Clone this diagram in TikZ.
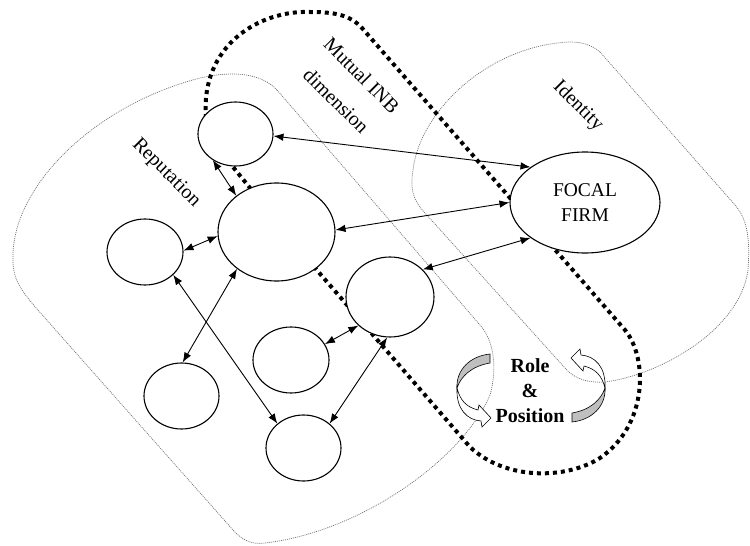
\documentclass[tikz,border=0pt]{standalone}
\usepackage{fontspec}
\setmainfont{Liberation Serif}
\usetikzlibrary{arrows.meta,shapes.geometric}
\begin{document}
\begin{tikzpicture}[x=1pt,y=-1pt,
  bubble/.style={ellipse,draw,fill=white,line width=1.1pt,inner sep=0pt},
  link/.style={{Latex[length=10pt,width=7.5pt]}-{Latex[length=10pt,width=7.5pt]},line width=0.9pt},
  region/.style={draw=black!55,line width=0.7pt,dash pattern=on 1pt off 1pt},
  mutual/.style={line width=4pt,dash pattern=on 4pt off 4pt},
  lab/.style={font=\fontsize{20}{28}\selectfont,align=center,rotate=-45,inner sep=0pt},
  ribbon/.style={draw,line width=0.6pt}]
\useasboundingbox (0,0) rectangle (750,546);
\fill[white] (0,0) rectangle (750,546);

% Reputation region
\draw[region] (277,90) -- (480,325) .. controls (495,342) and (497,370) .. (490,395)
  .. controls (462,460) and (360,532) .. (265,543) .. controls (252,545) and (242,540) .. (233,530)
  -- (45,318) .. controls (20,290) and (12,280) .. (13,255)
  .. controls (14,185) and (95,105) .. (200,78) .. controls (235,70) and (262,74) .. (277,90) -- cycle;

% Identity region
\draw[region] (600,52) -- (735,205) .. controls (748,220) and (750,240) .. (748,270)
  .. controls (740,330) and (660,375) .. (605,382) .. controls (590,383) and (575,380) .. (565,368)
  -- (425,213) .. controls (413,200) and (410,190) .. (413,170)
  .. controls (420,110) and (490,45) .. (570,42) .. controls (582,42) and (592,45) .. (600,52) -- cycle;

% Mutual INB dimension
\draw[mutual] (206,118) .. controls (200,45) and (260,10) .. (310,12)
  .. controls (335,12) and (350,15) .. (362,28) -- (625,330)
  .. controls (648,358) and (648,425) .. (600,458)
  .. controls (565,480) and (505,480) .. (470,447) -- (315,268) -- (233,167) -- (206,118);

% nodes
\node[bubble,minimum width=75pt,minimum height=64pt] (A) at (235.5,134) {};
\node[bubble,minimum width=117pt,minimum height=98pt] (B) at (276.5,232) {};
\node[bubble,minimum width=76pt,minimum height=66pt] (C) at (145,252) {};
\node[bubble,minimum width=88pt,minimum height=80pt] (D) at (390,297) {};
\node[bubble,minimum width=76pt,minimum height=66pt] (E) at (291,360) {};
\node[bubble,minimum width=75pt,minimum height=66pt] (F) at (181.5,396) {};
\node[bubble,minimum width=75pt,minimum height=66pt] (G) at (303.5,448) {};
\node[bubble,minimum width=150pt,minimum height=101pt,align=center,font=\fontsize{19.5}{25}\selectfont] (FF) at (585,202.5) {FOCAL\\[0pt]FIRM};

% links
\draw[link] (A.-3) -- (FF.147);
\draw[link] (B.2) -- (FF.180);
\draw[link] (D.40) -- (FF.213);
\draw[link] (A.229) -- (B.138);
\draw[link] (C.2) -- (B.184);
\draw[link] (F.88) -- (B.223);
\draw[link] (C.-39) -- (G.137);
\draw[link] (D.222) -- (E.25);
\draw[link] (D.266) -- (G.43);

% labels
\node[lab] (rep) at (166,173) {Reputation};
\node[lab] (inb) at (349,88) {Mutual INB\\[8pt]dimension};
\node[lab] (idt) at (578,106) {Identity};
\node[align=center,inner sep=0pt,font=\fontsize{20}{25}\selectfont\bfseries] (rp) at (530,391) {Role\\[0pt]\&\\[0pt]Position};

% curved arrows
\filldraw[ribbon,fill=black!25] (490,354) .. controls (470,356) and (456,370) .. (457,388)
  .. controls (461,376) and (472,366) .. (490,363) -- cycle;
\filldraw[ribbon,fill=white] (457,388) .. controls (460,400) and (466,407) .. (478,410) -- (479,405)
  -- (491,418) -- (482,427) -- (481,421) .. controls (467,420) and (456,409) .. (457,388) -- cycle;
\begin{scope}[rotate around={180:(531,388)}]
\filldraw[ribbon,fill=black!25] (490,354) .. controls (470,356) and (456,370) .. (457,388)
  .. controls (461,376) and (472,366) .. (490,363) -- cycle;
\filldraw[ribbon,fill=white] (457,388) .. controls (460,400) and (466,407) .. (478,410) -- (479,405)
  -- (491,418) -- (482,427) -- (481,421) .. controls (467,420) and (456,409) .. (457,388) -- cycle;
\end{scope}
\end{tikzpicture}
\end{document}
